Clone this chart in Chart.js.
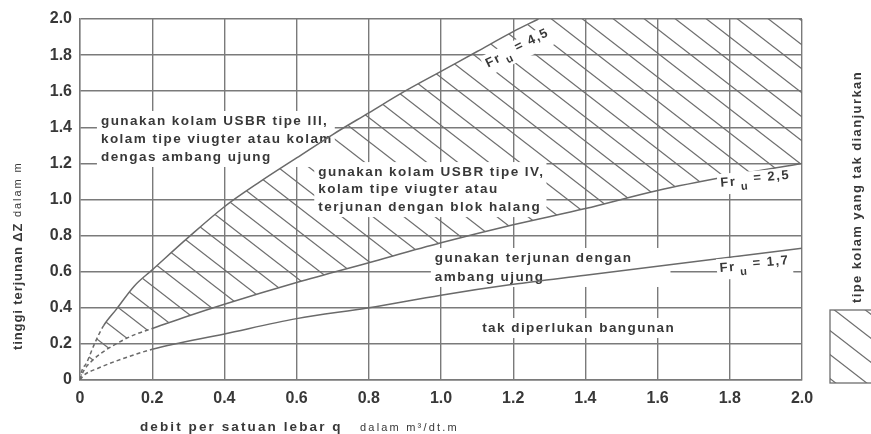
<!DOCTYPE html>
<html>
<head>
<meta charset="utf-8">
<script src="https://cdn.jsdelivr.net/npm/chart.js@4.4.1/dist/chart.umd.min.js"></script>
<style>
  html, body { margin: 0; padding: 0; background: #ffffff; }
  #wrap { position: relative; width: 871px; height: 434px; }
</style>
</head>
<body>
<div id="wrap"><canvas id="chart" width="871" height="434"></canvas></div>
<script>
// Axis tick labels
const xTickLabels = ['0', '0.2', '0.4', '0.6', '0.8', '1.0', '1.2', '1.4', '1.6', '1.8', '2.0'];
const yTickLabels = ['0', '0.2', '0.4', '0.6', '0.8', '1.0', '1.2', '1.4', '1.6', '1.8', '2.0'];

// Fr_u = 4,5 boundary: discharge q (m3/dt.m) and drop height dZ (m)
const qFr45  = [0, 0.005, 0.018, 0.04, 0.065, 0.1, 0.15, 0.2, 0.3, 0.4, 0.5, 0.6, 0.7, 0.8, 0.9, 1.0, 1.1, 1.2, 1.27];
const dzFr45 = [0, 0.05, 0.094, 0.2, 0.3, 0.39, 0.52, 0.61, 0.79, 0.96, 1.10, 1.23, 1.36, 1.48, 1.60, 1.71, 1.82, 1.93, 2.0];

// Fr_u = 2,5 boundary
const qFr25  = [0, 0.01, 0.03, 0.06, 0.1, 0.15, 0.2, 0.3, 0.4, 0.6, 0.8, 1.0, 1.2, 1.4, 1.6, 1.8, 2.0];
const dzFr25 = [0, 0.05, 0.1, 0.15, 0.2, 0.25, 0.285, 0.355, 0.42, 0.54, 0.65, 0.76, 0.86, 0.95, 1.05, 1.13, 1.20];

// Fr_u = 1,7 boundary
const qFr17  = [0, 0.01, 0.05, 0.1, 0.2, 0.4, 0.6, 0.8, 1.0, 1.2, 1.4, 1.6, 1.8, 2.0];
const dzFr17 = [0, 0.025, 0.065, 0.105, 0.17, 0.255, 0.34, 0.40, 0.47, 0.53, 0.58, 0.63, 0.68, 0.73];

// Curve labels
const froudeValues = ['4,5', '2,5', '1,7'];

// Text written inside each region of the chart
const regionNotes = [
  ['gunakan kolam USBR tipe III,', 'kolam tipe viugter atau kolam', 'dengas ambang ujung'],
  ['gunakan kolam USBR tipe IV,', 'kolam tipe viugter atau', 'terjunan dengan blok halang'],
  ['gunakan terjunan dengan', 'ambang ujung'],
  ['tak diperlukan bangunan']
];

const axisTitles = {
  x: ['debit per satuan lebar q', 'dalam m\u00B3/dt.m'],
  y: ['tinggi terjunan \u0394Z', 'dalam m']
};
const legendText = 'tipe kolam yang tak dianjurkan';

// ---------------------------------------------------------------------------

const INK = '#383838';
const LINE = '#6a6a6a';
const GRID = '#7a7a7a';
const FONT = '"Liberation Sans", Arial, sans-serif';

function toPoints(xs, ys) {
  return xs.map((x, i) => ({ x: x, y: ys[i] }));
}

// Diagonal hatching, lines running from upper left to lower right
function makeHatch() {
  const w = 31, h = 24;
  const c = document.createElement('canvas');
  c.width = w; c.height = h;
  const g = c.getContext('2d');
  g.strokeStyle = '#6e6e6e';
  g.lineWidth = 1.25;
  for (const off of [-w, 0, w]) {
    g.beginPath();
    g.moveTo(off - w, -h);
    g.lineTo(off + 2 * w, 2 * h);
    g.stroke();
  }
  return g.createPattern(c, 'repeat');
}
const hatch = makeHatch();

// dashed near the origin, solid beyond the given discharge
function dashedBelow(limit) {
  return {
    borderDash: ctx => (ctx.p1.parsed.x <= limit + 1e-9 ? [4, 3] : undefined)
  };
}

const lineStyle = {
  borderColor: LINE,
  borderWidth: 1.5,
  pointRadius: 0,
  fill: false,
  cubicInterpolationMode: 'monotone'
};

// upper edge of the hatched band follows Fr 4,5 then runs along the top of the grid
const hatchTop = toPoints(qFr45, dzFr45).concat([{ x: 2.0, y: 2.0 }]);
const HATCH_INDEX = 3;

const labelPlugin = {
  id: 'chartTexts',
  // region notes sit on white boxes above grid and hatching, below the curves
  afterDatasetDraw(chart, args, opts) {
    if (args.index !== HATCH_INDEX) return;
    const ctx = chart.ctx;
    const xs = chart.scales.x, ys = chart.scales.y;
    opts.notes.forEach((n, i) => {
      const lines = regionNotes[i];
      ctx.save();
      ctx.font = 'bold 13.5px ' + FONT;
      ctx.letterSpacing = '1.45px';
      ctx.textBaseline = 'middle';
      ctx.textAlign = 'left';
      const px = xs.getPixelForValue(n.q);
      const py = ys.getPixelForValue(n.dz);
      const wMax = Math.max(...lines.map(l => ctx.measureText(l).width));
      ctx.fillStyle = '#ffffff';
      ctx.fillRect(px - 4, py - 10, wMax + 6 + (n.extra || 0), (lines.length - 1) * n.lh + 20);
      ctx.fillStyle = INK;
      lines.forEach((l, k) => ctx.fillText(l, px, py + k * n.lh));
      ctx.restore();
    });
  },
  afterDatasetsDraw(chart, args, opts) {
    const ctx = chart.ctx;
    const xs = chart.scales.x, ys = chart.scales.y;
    // Fr_u labels along the curves
    opts.froude.forEach((f, i) => {
      const px = xs.getPixelForValue(f.q);
      const py = ys.getPixelForValue(f.dz);
      ctx.save();
      ctx.translate(px, py);
      ctx.rotate(f.angle * Math.PI / 180);
      ctx.textBaseline = 'alphabetic';
      ctx.textAlign = 'left';
      ctx.letterSpacing = '1.5px';
      ctx.font = 'bold 13px ' + FONT;
      const wFr = ctx.measureText('Fr').width;
      const wEq = ctx.measureText('= ' + froudeValues[i]).width;
      ctx.font = 'bold 11px ' + FONT;
      const wU = ctx.measureText('u').width;
      const total = wFr + 4 + wU + 5 + wEq;
      ctx.fillStyle = '#ffffff';
      ctx.fillRect(-3, -13, total + 6, 21);
      ctx.fillStyle = INK;
      ctx.font = 'bold 13px ' + FONT;
      ctx.fillText('Fr', 0, 0);
      ctx.font = 'bold 11px ' + FONT;
      ctx.fillText('u', wFr + 4, 5);
      ctx.font = 'bold 13px ' + FONT;
      ctx.fillText('= ' + froudeValues[i], wFr + 4 + wU + 5, -2);
      ctx.restore();
    });
  },
  afterDraw(chart) {
    const ctx = chart.ctx;
    const area = chart.chartArea;

    // x axis title
    ctx.save();
    ctx.fillStyle = INK;
    ctx.textBaseline = 'middle';
    ctx.textAlign = 'left';
    ctx.font = 'bold 13.5px ' + FONT;
    ctx.letterSpacing = '2.1px';
    ctx.fillText(axisTitles.x[0], area.left + 60, area.bottom + 47);
    ctx.font = '11px ' + FONT;
    ctx.letterSpacing = '2.2px';
    ctx.fillText(axisTitles.x[1], 360, area.bottom + 48);
    ctx.restore();

    // y axis title
    ctx.save();
    ctx.fillStyle = INK;
    ctx.translate(18, 350);
    ctx.rotate(-Math.PI / 2);
    ctx.textBaseline = 'middle';
    ctx.textAlign = 'left';
    ctx.font = 'bold 13px ' + FONT;
    ctx.letterSpacing = '0.9px';
    ctx.fillText(axisTitles.y[0], 0, 0);
    ctx.font = '11px ' + FONT;
    ctx.letterSpacing = '1.9px';
    ctx.fillText(axisTitles.y[1], 133, 0);
    ctx.restore();

    // legend: hatched swatch and vertical caption
    ctx.save();
    const lx = 830, ly = 310, lw = 60, lh = 73;
    ctx.fillStyle = hatch;
    ctx.fillRect(lx, ly, lw, lh);
    ctx.strokeStyle = '#6e6e6e';
    ctx.lineWidth = 1.3;
    ctx.strokeRect(lx, ly, lw, lh);
    ctx.fillStyle = INK;
    ctx.translate(857, 303);
    ctx.rotate(-Math.PI / 2);
    ctx.textBaseline = 'middle';
    ctx.textAlign = 'left';
    ctx.font = 'bold 13px ' + FONT;
    ctx.letterSpacing = '1.4px';
    ctx.fillText(legendText, 0, 0);
    ctx.restore();
  }
};

new Chart(document.getElementById('chart'), {
  type: 'line',
  data: {
    datasets: [
      Object.assign({ label: 'Fr 4,5', data: toPoints(qFr45, dzFr45), segment: dashedBelow(0.065), order: 1 }, lineStyle),
      Object.assign({ label: 'Fr 2,5', data: toPoints(qFr25, dzFr25), segment: dashedBelow(0.2), order: 1 }, lineStyle),
      Object.assign({ label: 'Fr 1,7', data: toPoints(qFr17, dzFr17), segment: dashedBelow(0.2), order: 1 }, lineStyle),
      {
        label: 'hatch',
        data: hatchTop,
        borderWidth: 0,
        borderColor: 'rgba(0,0,0,0)',
        pointRadius: 0,
        tension: 0,
        backgroundColor: hatch,
        fill: { target: 1 },
        order: 5
      }
    ]
  },
  options: {
    responsive: false,
    animation: false,
    devicePixelRatio: 1,
    layout: { padding: { top: 19, right: 69, left: 0, bottom: 0 } },
    plugins: {
      legend: { display: false },
      tooltip: { enabled: false },
      chartTexts: {
        notes: [
          { q: 0.058, dz: 1.435, lh: 18 },
          { q: 0.66, dz: 1.152, lh: 17.5 },
          { q: 0.983, dz: 0.676, lh: 19, extra: 36 },
          { q: 1.114, dz: 0.288, lh: 18 }
        ],
        froude: [
          { q: 1.13, dz: 1.73, angle: -26 },
          { q: 1.775, dz: 1.07, angle: -5 },
          { q: 1.773, dz: 0.598, angle: -5 }
        ]
      }
    },
    scales: {
      x: {
        type: 'linear',
        min: 0, max: 2,
        afterFit: s => { s.height = 54; },
        ticks: {
          stepSize: 0.2,
          padding: 9,
          color: INK,
          font: { family: FONT, size: 16, weight: 'bold' },
          maxRotation: 0,
          callback: (v, i) => xTickLabels[i]
        },
        grid: { color: GRID, lineWidth: 1.4, drawTicks: false },
        border: { color: GRID, width: 1.4 }
      },
      y: {
        type: 'linear',
        min: 0, max: 2,
        afterFit: s => { s.width = 80; },
        ticks: {
          stepSize: 0.2,
          padding: 8,
          color: INK,
          font: { family: FONT, size: 16, weight: 'bold' },
          callback: (v, i) => yTickLabels[i]
        },
        grid: { color: GRID, lineWidth: 1.4, drawTicks: false },
        border: { color: GRID, width: 1.4 }
      }
    }
  },
  plugins: [labelPlugin]
});
</script>
</body>
</html>
